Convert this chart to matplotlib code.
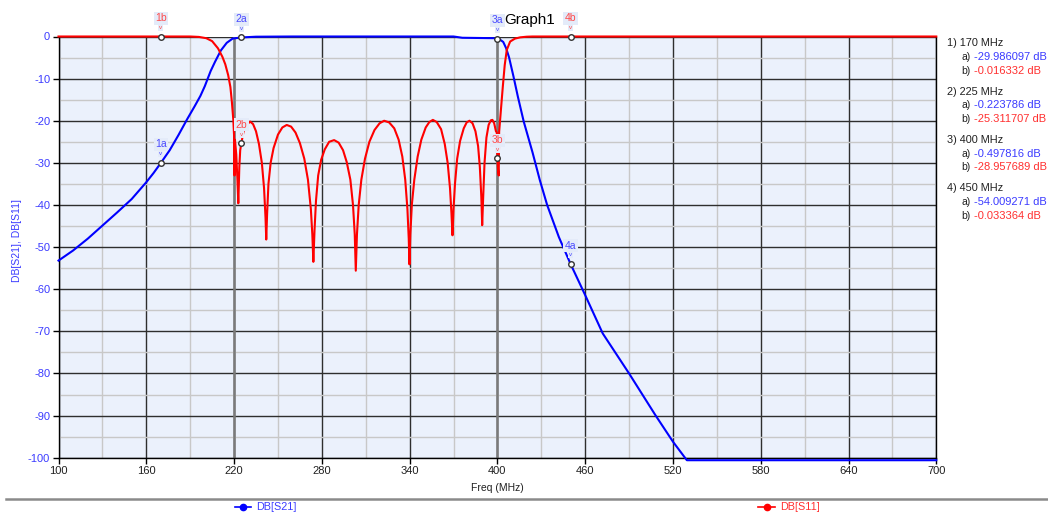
import matplotlib
matplotlib.use("Agg")
import matplotlib.pyplot as plt
from matplotlib.ticker import FixedLocator
from matplotlib.lines import Line2D

# ---------------- data ----------------
s21_freq = [100, 110, 120, 130, 140, 150, 160, 165, 170, 176, 182, 188, 193, 197, 200, 204,
            207, 211, 215, 219, 225, 235, 260, 370, 376, 398, 400, 402, 404, 406, 408,
            411, 414, 418, 424, 429, 434, 442, 450, 460, 472, 490, 508, 520, 529.5, 700]
s21_db = [-53.2, -50.8, -48.0, -44.9, -41.8, -38.6, -34.6, -32.4, -29.99, -27.0, -23.4, -19.6,
          -16.6, -14.1, -11.8, -8.2, -6.0, -3.3, -1.5, -0.5, -0.22, -0.05, 0.0, 0.0,
          -0.3, -0.4, -0.5, -0.8, -1.3, -2.8, -5.0, -9.5, -14.3, -20.2, -27.5, -34.1,
          -40.0, -47.6, -54.0, -61.4, -70.5, -80.0, -89.9, -96.2, -100.6, -100.6]

s11_freq = [100, 190, 196, 201, 205, 209, 212, 214, 216, 217.5, 218.5, 219.5, 220.0, 220.3,
            220.6, 221.5, 222.3, 222.9, 223.6, 224.2, 225, 226.5, 228.5, 231, 233, 235,
            237, 239, 240.5, 241.5, 242, 242.6, 243.5, 245, 247, 250, 253, 256, 259, 262,
            265, 268, 270.5, 272.5, 273.5, 274.2, 275, 276, 277.5, 279.5, 282, 285, 288.4,
            291.5, 294.5, 297, 299.5, 301.3, 302.5, 303.2, 304, 305.2, 307, 309.5, 312.5,
            316, 319.5, 322.6, 326, 329.5, 332.5, 335, 337, 338.5, 339.4, 339.9, 340.5,
            341.5, 343.2, 345.5, 348, 351, 353.5, 355.9, 358.5, 361.5, 364, 366, 367.6,
            368.6, 369.3, 370, 371, 372.5, 374.5, 377, 379, 380.9, 383, 385, 386.8, 388,
            389, 389.6, 390.3, 391.2, 392.5, 394, 395.5, 396.6, 397.8, 399, 399.6, 400,
            400.5, 400.9, 401.2, 402.5, 403.7, 405, 406.4, 408.7, 412, 415.6, 420, 424, 700]
s11_db = [0.0, 0.0, -0.1, -0.4, -1.1, -2.8, -4.8, -6.6, -9.2, -12.0, -15.5, -19.8, -23.5,
          -33.0, -24.5, -28.0, -34.0, -39.6, -31.0, -27.0, -25.31, -22.5, -21.0, -20.2,
          -20.8, -22.5, -25.5, -30.0, -36.0, -43.0, -48.2, -42.0, -35.0, -30.0, -26.5,
          -23.3, -21.6, -21.0, -21.4, -22.8, -25.3, -29.0, -34.0, -41.0, -47.0, -53.5,
          -46.0, -39.0, -33.0, -29.3, -26.8, -25.0, -24.6, -25.2, -27.0, -29.8, -34.0,
          -40.0, -47.0, -55.6, -47.0, -40.0, -34.0, -29.0, -25.0, -22.2, -20.6, -20.0,
          -20.4, -21.8, -24.5, -28.5, -34.0, -41.0, -48.0, -54.1, -47.0, -40.0, -34.0,
          -28.5, -24.5, -21.6, -20.3, -19.8, -20.3, -22.0, -25.5, -30.0, -36.0, -42.0,
          -47.2, -41.0, -35.0, -29.0, -24.8, -21.8, -20.4, -20.0, -20.6, -22.5, -26.0,
          -31.0, -38.0, -44.8, -38.0, -30.0, -24.0, -21.0, -19.9, -19.8, -20.6, -22.5,
          -22.8, -28.96, -32.0, -33.0, -22.6, -17.0, -11.9, -6.8, -3.2, -1.2, -0.5, -0.2,
          -0.05, 0.0, 0.0]

marker_freqs = [170, 225, 400, 450]
s21_marker = [-29.986097, -0.223786, -0.497816, -54.009271]
s11_marker = [-0.016332, -25.311707, -28.957689, -0.033364]
series_names = ["DB[S21]", "DB[S11]"]
x_ticks = [100, 160, 220, 280, 340, 400, 460, 520, 580, 640, 700]
x_minor = [130, 190, 250, 310, 370, 430, 490, 550, 610, 670]
y_ticks = [0, -10, -20, -30, -40, -50, -60, -70, -80, -90, -100]
y_minor = [-5, -15, -25, -35, -45, -55, -65, -75, -85, -95]

# ---------------- style ----------------
FONT = "Liberation Sans"
plt.rcParams["font.family"] = [FONT, "DejaVu Sans"]
BLUE = "#0000ff"
RED = "#ff0000"
BLUE_TXT = "#3b3bff"
RED_TXT = "#ff3030"
BG = "#ebf1fc"

W, H = 1048, 516
fig = plt.figure(figsize=(W / 100, H / 100), dpi=100)
L, R, T, B = 58.5, 936.3, 36.5, 457.7
ax = fig.add_axes([L / W, 1 - B / H, (R - L) / W, (B - T) / H])
ax.set_facecolor(BG)
ax.set_xlim(100, 700)
ax.set_ylim(-100, 0)

ax.set_xticks(x_ticks)
ax.set_yticks(y_ticks)
ax.xaxis.set_minor_locator(FixedLocator(x_minor))
ax.yaxis.set_minor_locator(FixedLocator(y_minor))
ax.grid(which="minor", color="#c8c8c8", linewidth=1.0, zorder=0)
ax.grid(which="major", color="#2e2e2e", linewidth=1.0, zorder=0)
ax.set_axisbelow(True)
for xv in (220, 400):
    ax.axvline(xv, color="#7a7a7a", linewidth=1.8, zorder=1)

for s in ax.spines.values():
    s.set_color("#000000")
    s.set_linewidth(1.0)
ax.spines["top"].set_visible(False)

ax.set_xticklabels([str(v) for v in x_ticks], fontsize=8, color="#202020")
ax.set_yticklabels([str(v) for v in y_ticks], fontsize=8, color=BLUE_TXT)
ax.tick_params(which="major", direction="out", length=4, width=1, color="#000000", pad=2)
ax.tick_params(which="minor", length=0)

# curves
ax.plot(s21_freq, s21_db, color=BLUE, linewidth=1.5, zorder=3, clip_on=False)
ax.plot(s11_freq, s11_db, color=RED, linewidth=1.5, zorder=4, clip_on=False)

# markers
def put_marker(x, y, label, col):
    ax.plot([x], [y], marker="o", markersize=4, markerfacecolor="white",
            markeredgecolor="#333333", markeredgewidth=1.0, zorder=7, clip_on=False)
    ax.annotate("v", (x, y), xytext=(0, 6.5), textcoords="offset points",
                ha="center", va="center", fontsize=4.5, color=col, zorder=8,
                bbox=dict(boxstyle="square,pad=0.15", fc="#e4ebf9", ec="none"),
                annotation_clip=False)
    ax.annotate(label, (x, y), xytext=(0, 13.2), textcoords="offset points",
                ha="center", va="center", fontsize=7.5, color=col, zorder=8,
                bbox=dict(boxstyle="square,pad=0.15", fc="#e4ebf9", ec="none"),
                annotation_clip=False)

for i, f in enumerate(marker_freqs):
    put_marker(f, s21_marker[i], f"{i+1}a", "#4a4aff")
    put_marker(f, s11_marker[i], f"{i+1}b", "#ff4a4a")

# title and axis labels
fig.text(530 / W, 1 - 20 / H, "Graph1", ha="center", va="center", fontsize=11, color="#000000")
fig.text(497 / W, 1 - 488 / H, "Freq (MHz)", ha="center", va="center", fontsize=7.5, color="#202020")
fig.text(17.5 / W, 1 - 241 / H, ", ".join(series_names), rotation=90, ha="center",
         va="center", fontsize=7.5, color=BLUE_TXT)

# right-hand marker table
y0 = 43.5
for i, f in enumerate(marker_freqs):
    yy = y0 + i * 48.3
    fig.text(947 / W, 1 - yy / H, f"{i+1}) {f} MHz", ha="left", va="center",
             fontsize=7.8, color="#202020")
    fig.text(961 / W, 1 - (yy + 13.7) / H, "a)", ha="left", va="center", fontsize=7.5, color="#202020")
    fig.text(973.5 / W, 1 - (yy + 13.7) / H, f"{s21_marker[i]:.6f} dB", ha="left",
             va="center", fontsize=8.0, color=BLUE_TXT)
    fig.text(961 / W, 1 - (yy + 27.4) / H, "b)", ha="left", va="center", fontsize=7.5, color="#202020")
    fig.text(973.5 / W, 1 - (yy + 27.4) / H, f"{s11_marker[i]:.6f} dB", ha="left",
             va="center", fontsize=8.0, color=RED_TXT)

# bottom separator line and legend
fig.add_artist(Line2D([6 / W, 1.0], [1 - 498.5 / H, 1 - 498.5 / H], color="#8a8a8a", linewidth=1.8))
leg_y = 1 - 506.5 / H
for (x0, x1, xt), col, name in [((235, 251, 256.5), BLUE, series_names[0]),
                                ((758, 775, 780), RED, series_names[1])]:
    fig.add_artist(Line2D([x0 / W, x1 / W], [leg_y, leg_y], color=col, linewidth=1.2))
    fig.add_artist(Line2D([(x0 + x1) / 2 / W], [leg_y], color=col, marker="o",
                          markersize=4.5, linestyle="none"))
    fig.text(xt / W, leg_y, name, ha="left", va="center", fontsize=7.8,
             color=BLUE_TXT if col == BLUE else RED_TXT)

fig.savefig("out.png", dpi=100, facecolor="white")
